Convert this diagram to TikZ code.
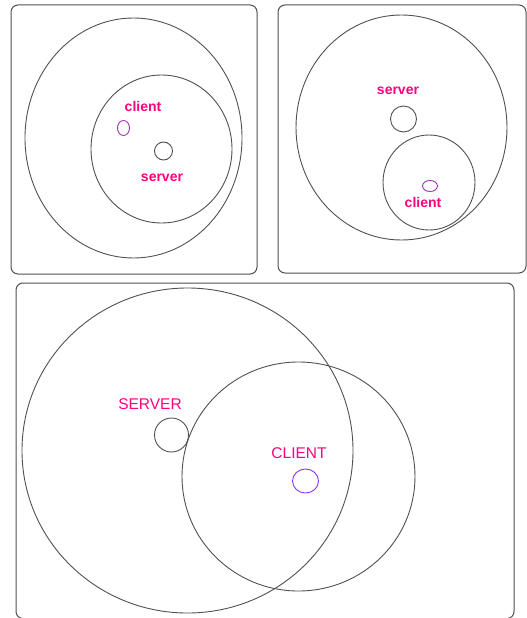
\documentclass[tikz,border=0pt]{standalone}
\usepackage{fontspec}
\setmainfont{Liberation Sans}
\definecolor{lbl}{RGB}{255,0,128}
\definecolor{linec}{RGB}{80,80,80}
\definecolor{smallp}{RGB}{160,50,180}
\definecolor{violetc}{RGB}{140,50,255}
\tikzset{
  panel/.style={draw=linec, line width=1pt, rounded corners=7pt},
  ring/.style={draw=linec, line width=0.9pt},
  lowlbl/.style={text=lbl, font=\fontsize{14}{14}\selectfont\bfseries, inner sep=0pt},
  uplbl/.style={text=lbl, font=\fontsize{15.5}{15.5}\selectfont, inner sep=0pt},
}
\begin{document}
\begin{tikzpicture}[x=1pt, y=-1pt]
\useasboundingbox (0,0) rectangle (527,618);
% panel 1
\draw[panel] (11,5) rectangle (257,274);
\draw[ring] (133.5,138) ellipse [x radius=108.5, y radius=120];
\draw[ring] (161.5,149) ellipse [x radius=70.5, y radius=74];
\draw[draw=smallp, line width=0.9pt] (123.5,128) ellipse [x radius=6, y radius=7.5];
\draw[ring] (163.5,151) ellipse [x radius=9, y radius=9];
\node[lowlbl] (c1) at (143,106) {client};
\node[lowlbl] (s1) at (162,178) {server};
% panel 2
\draw[panel] (278,5) rectangle (526,273);
\draw[ring] (401.5,127.5) ellipse [x radius=105.5, y radius=112.5];
\draw[ring] (403.5,119) ellipse [x radius=13, y radius=13];
\draw[ring] (429,182.5) ellipse [x radius=46, y radius=47.5];
\draw[draw=smallp, line width=0.9pt] (430,186) ellipse [x radius=7.5, y radius=5.5];
\node[lowlbl] (s2) at (398,91) {server};
\node[lowlbl] (c2) at (423,202) {client};
% panel 3
\draw[panel] (16,283) rectangle (514,618.5);
\draw[ring] (187.5,450.5) ellipse [x radius=165.5, y radius=162.5];
\draw[ring] (298.5,476.5) ellipse [x radius=116.5, y radius=114.5];
\draw[ring] (171.5,435) ellipse [x radius=17, y radius=17];
\draw[draw=violetc, line width=0.9pt] (305.5,481) ellipse [x radius=13, y radius=12];
\node[uplbl] (s3) at (150,404) {SERVER};
\node[uplbl] (c3) at (299,453) {CLIENT};
\end{tikzpicture}
\end{document}
